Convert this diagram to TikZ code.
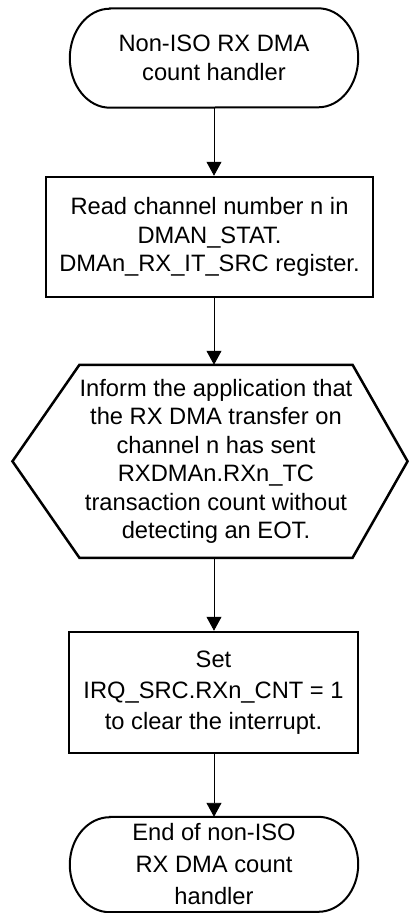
\documentclass[tikz,border=0pt]{standalone}
\usepackage{fontspec}
\setmainfont{Liberation Sans}
\usetikzlibrary{arrows.meta,calc}
\begin{document}
\begin{tikzpicture}[x=1pt,y=1pt,
  txt/.style={font=\fontsize{23.7}{28.5}\selectfont, align=center, inner sep=0pt},
  termbox/.style={txt, rectangle, minimum width=288pt, minimum height=99pt},
  procbox/.style={txt, rectangle, draw, line width=2.5pt},
  hexbox/.style={txt, rectangle, minimum width=272pt, minimum height=192.7pt},
  termline/.style={line width=2pt},
  flow/.style={line width=0.9pt, -{Triangle[length=14pt,width=15pt]}}
]
\useasboundingbox (0,0) rectangle (408,-913);

% start terminal
\node[termbox] (start) at (214,-58) {Non-ISO RX DMA\\count handler};
\draw[termline] ($(start.north west)+(40,0)$) -- ($(start.north east)+(-40,0)$)
  arc[start angle=90,end angle=-90,x radius=40pt,y radius=49.5pt]
  -- ($(start.south west)+(40,0)$)
  arc[start angle=270,end angle=90,x radius=40pt,y radius=49.5pt] -- cycle;

% box 1
\node[procbox, minimum width=327pt, minimum height=120pt] (read) at (209.5,-237)
  {Read channel number n in\\DMAN\_STAT.\\DMAn\_RX\_IT\_SRC register.};

% hexagon
\node[hexbox] (inform) at (216,-461.3)
  {Inform the application that\\the RX DMA transfer on\\channel n has sent\\RXDMAn.RXn\_TC\\transaction count without\\detecting an EOT.};
\draw[line width=2.5pt, line join=miter] (inform.north west) -- (inform.north east)
  -- ($(inform.east)+(55,0)$) -- (inform.south east) -- (inform.south west)
  -- ($(inform.west)+(-67,0)$) -- cycle;

% box 2
\node[procbox, minimum width=289pt, minimum height=121pt,
  font=\fontsize{23.7}{31}\selectfont] (set) at (213.5,-692.5)
  {Set\\IRQ\_SRC.RXn\_CNT = 1\\to clear the interrupt.};

% end terminal
\node[termbox, minimum height=95pt, font=\fontsize{23.7}{32}\selectfont] (end) at (214,-864.5)
  {End of non-ISO\\RX DMA count\\handler};
\draw[termline] ($(end.north west)+(40,0)$) -- ($(end.north east)+(-40,0)$)
  arc[start angle=90,end angle=-90,x radius=40pt,y radius=47.5pt]
  -- ($(end.south west)+(40,0)$)
  arc[start angle=270,end angle=90,x radius=40pt,y radius=47.5pt] -- cycle;

% connectors
\draw[flow] (start.south) -- (start.south |- read.north);
\draw[flow] (start.south |- read.south) -- (start.south |- inform.north);
\draw[flow] (start.south |- inform.south) -- (start.south |- set.north);
\draw[flow] (start.south |- set.south) -- (end.north);
\end{tikzpicture}
\end{document}
